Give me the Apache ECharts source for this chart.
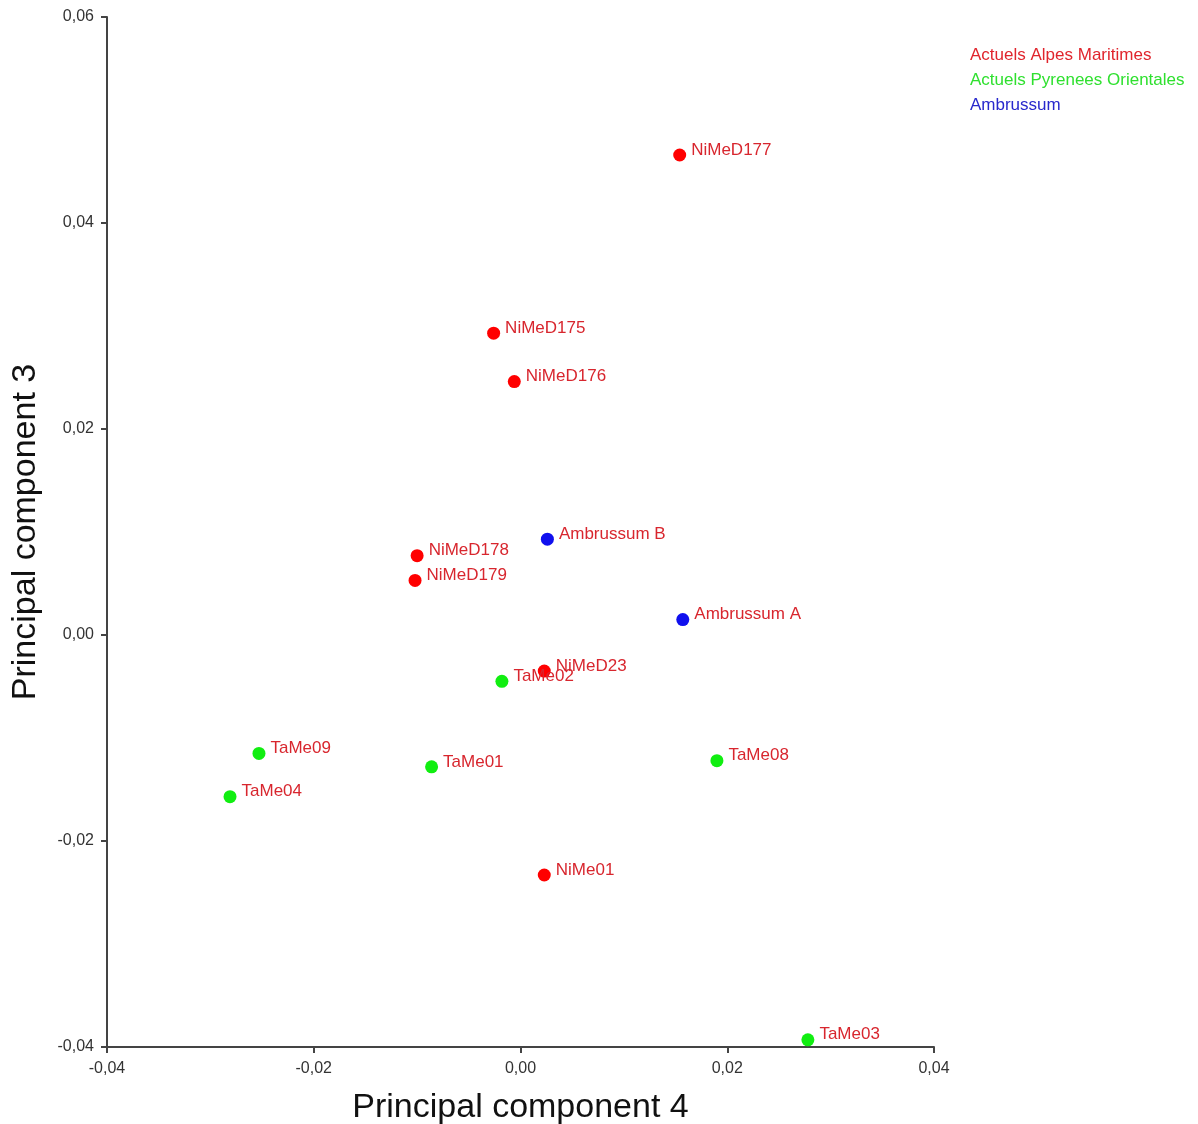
<!DOCTYPE html>
<html>
<head>
<meta charset="utf-8">
<script src="https://cdn.jsdelivr.net/npm/echarts@6/dist/echarts.min.js"></script>
<style>html,body{margin:0;padding:0;background:#fff}#c{width:1198px;height:1124px}</style>
</head>
<body>
<div id="c"></div>
<script>
// Actuels Alpes Maritimes
var alpesNames = ["NiMeD177", "NiMeD175", "NiMeD176", "NiMeD178", "NiMeD179", "NiMeD23", "NiMe01"];
var alpesPC4 = [0.0154, -0.0026, -0.0006, -0.0100, -0.0102, 0.0023, 0.0023];
var alpesPC3 = [0.0466, 0.0293, 0.0246, 0.0077, 0.0053, -0.0035, -0.0233];
// Actuels Pyrenees Orientales
var pyrNames = ["TaMe02", "TaMe09", "TaMe01", "TaMe08", "TaMe04", "TaMe03"];
var pyrPC4 = [-0.0018, -0.0253, -0.0086, 0.0190, -0.0281, 0.0278];
var pyrPC3 = [-0.0045, -0.0115, -0.0128, -0.0122, -0.0157, -0.0393];
// Ambrussum
var ambNames = ["Ambrussum B", "Ambrussum A"];
var ambPC4 = [0.0026, 0.0157];
var ambPC3 = [0.0093, 0.0015];

var groupNames = ["Actuels Alpes Maritimes", "Actuels Pyrenees Orientales", "Ambrussum"];
var xTicks = { min: -0.04, max: 0.04, interval: 0.02 };
var yTicks = { min: -0.04, max: 0.06, interval: 0.02 };

var FONT = "Liberation Sans, Arial, sans-serif";
var labelColor = "#d8262e";
var dotColors = ["#ff0000", "#11ee11", "#1010ee"];
var legendColors = ["#e0252d", "#2fe02f", "#2828cc"];

function pts(names, xs, ys) {
  return names.map(function (n, i) { return { name: n, value: [xs[i], ys[i]] }; });
}
function fmt(v) { return v.toFixed(2).replace('.', ','); }

function series(name, data, color) {
  return {
    name: name, type: 'scatter', data: data, symbolSize: 13,
    itemStyle: { color: color, opacity: 1 },
    label: { show: true, position: 'right', distance: 5, offset: [0, -5],
      formatter: function (p) { return p.name; },
      color: labelColor, fontFamily: FONT, fontSize: 17 },
    emphasis: { disabled: true }
  };
}

var chart = echarts.init(document.getElementById('c'), null, { renderer: 'canvas' });
chart.setOption({
  backgroundColor: '#ffffff',
  animation: false,
  grid: { left: 107, right: 264, top: 17, bottom: 77, containLabel: false, outerBoundsMode: 'none' },
  legend: {
    orient: 'vertical', left: 960, top: 41,
    itemWidth: 0, itemHeight: 0, itemGap: 7,
    selectedMode: false,
    data: groupNames.map(function (n, i) {
      return { name: n, icon: 'circle', itemStyle: { opacity: 0 }, textStyle: { color: legendColors[i] } };
    }),
    textStyle: { fontFamily: FONT, fontSize: 17, lineHeight: 18 }
  },
  xAxis: {
    type: 'value', min: xTicks.min, max: xTicks.max, interval: xTicks.interval,
    name: 'Principal component 4', nameLocation: 'middle', nameGap: 44, nameMoveOverlap: false,
    nameTextStyle: { fontFamily: FONT, fontSize: 34, color: '#111' },
    axisLine: { show: true, onZero: false, lineStyle: { color: '#444', width: 2 } },
    axisTick: { show: true, inside: false, length: 6, lineStyle: { color: '#444', width: 2 } },
    axisLabel: { formatter: fmt, fontFamily: FONT, fontSize: 16, color: '#333', margin: 14 },
    splitLine: { show: false }
  },
  yAxis: {
    type: 'value', min: yTicks.min, max: yTicks.max, interval: yTicks.interval,
    name: 'Principal component 3', nameLocation: 'middle', nameGap: 64, nameMoveOverlap: false,
    nameTextStyle: { fontFamily: FONT, fontSize: 34, color: '#111' },
    axisLine: { show: true, onZero: false, lineStyle: { color: '#444', width: 2 } },
    axisTick: { show: true, inside: false, length: 6, lineStyle: { color: '#444', width: 2 } },
    axisLabel: { formatter: fmt, fontFamily: FONT, fontSize: 16, color: '#333', margin: 13 },
    splitLine: { show: false }
  },
  series: [
    series(groupNames[0], pts(alpesNames, alpesPC4, alpesPC3), dotColors[0]),
    series(groupNames[1], pts(pyrNames, pyrPC4, pyrPC3), dotColors[1]),
    series(groupNames[2], pts(ambNames, ambPC4, ambPC3), dotColors[2])
  ]
});
</script>
</body>
</html>
